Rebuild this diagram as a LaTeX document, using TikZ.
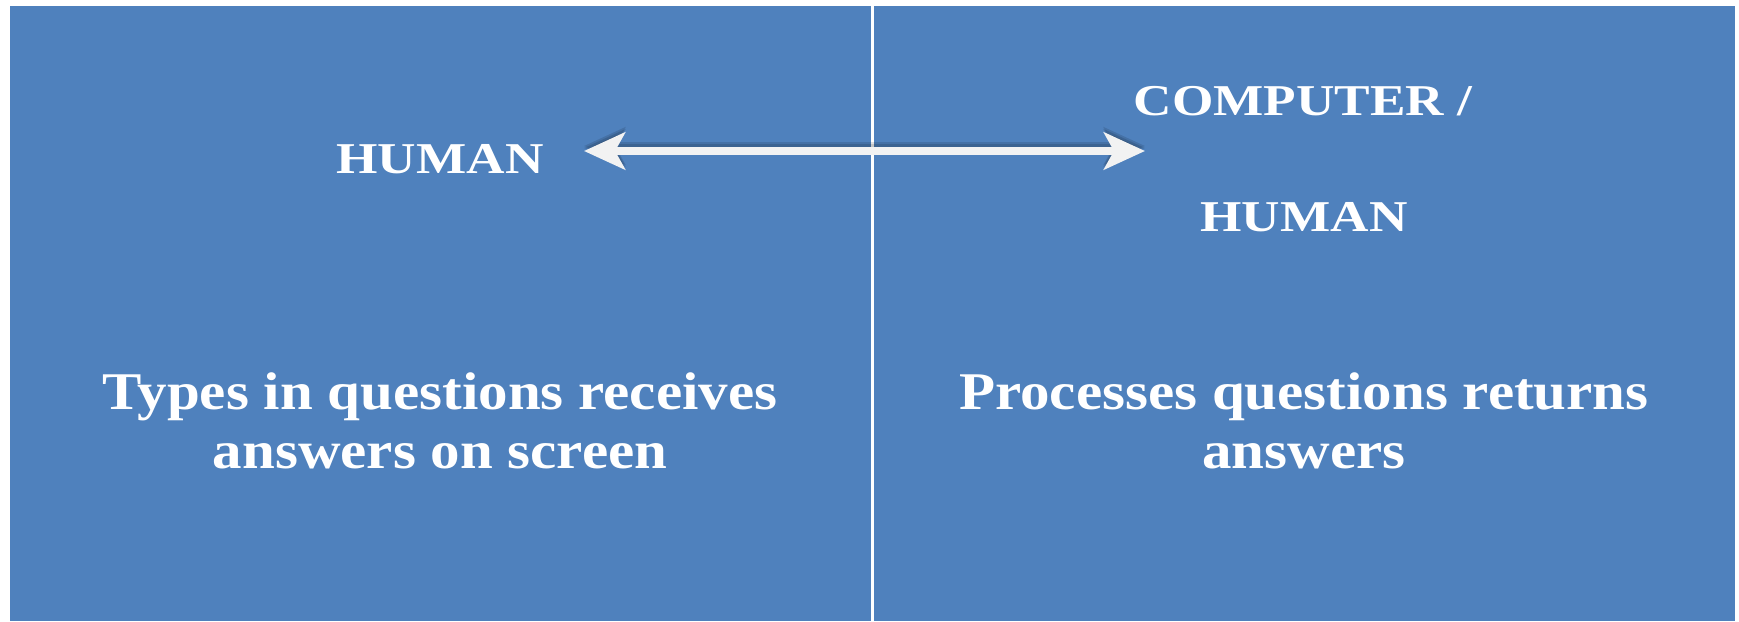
\documentclass[tikz,border=0pt]{standalone}
\usepackage{fontspec}
\setmainfont{Liberation Serif}
\usetikzlibrary{arrows.meta}
\definecolor{panelblue}{RGB}{79,129,189}
\definecolor{arrowgray}{RGB}{242,242,242}
\newcommand{\hstretch}[3]{\scalebox{#1}[#2]{#3}}
\tikzset{
  title/.style={text=white, font=\bfseries\fontsize{44}{50}\selectfont, inner sep=0pt, anchor=center},
  body/.style={text=white, font=\bfseries\fontsize{50}{56}\selectfont, inner sep=0pt, anchor=center},
  tips/.style={{Stealth[length=41pt,width=37pt,inset=10pt]}-{Stealth[length=41pt,width=37pt,inset=10pt]}},
  link/.style={line width=8pt, draw=arrowgray, tips},
  linkshadow/.style={line width=8pt, draw=black, opacity=0.12, tips}
}
\begin{document}
\begin{tikzpicture}[x=1pt,y=-1pt]
\useasboundingbox (0,0) rectangle (1739,621);
\fill[panelblue] (10,6) rectangle (1735,621);
\draw[white, line width=3pt] (872,6) -- (872,621);
\node[title] (h1) at (440,159) {\hstretch{1.21}{1}{HUMAN}};
\node[title] (c1) at (1303,101) {\hstretch{1.21}{1}{COMPUTER /}};
\node[title] (h2) at (1304,217) {\hstretch{1.21}{1}{HUMAN}};
\node[body] (t1) at (440,427) {\hstretch{1.18}{1.06}{\begin{tabular}{@{}c@{}}Types in questions receives\\answers on screen\end{tabular}}};
\node[body] (t2) at (1304,427) {\hstretch{1.18}{1.06}{\begin{tabular}{@{}c@{}}Processes questions returns\\answers\end{tabular}}};
\coordinate (al) at (584,151);
\coordinate (ar) at (1145,151);
\draw[linkshadow] ([yshift=5pt]al) -- ([yshift=5pt]ar);
\draw[linkshadow] ([yshift=3pt]al) -- ([yshift=3pt]ar);
\draw[link] (al) -- (ar);
\end{tikzpicture}
\end{document}
